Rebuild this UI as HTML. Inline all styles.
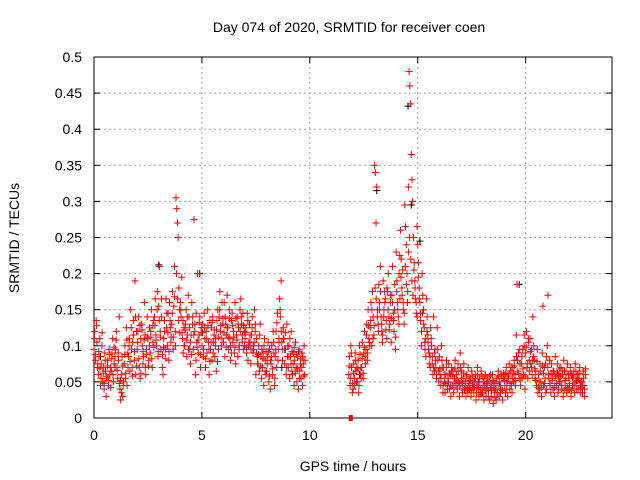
<!DOCTYPE html>
<html><head><meta charset="utf-8"><style>
html,body{margin:0;padding:0;background:#fff}
svg{display:block;font-family:"Liberation Sans",sans-serif}
</style></head><body>
<svg id="chart" width="640" height="480" viewBox="0 0 640 480">
<rect x="0" y="0" width="640" height="480" fill="#fff"/>
<g id="grid"></g>
<g id="axes"></g>
<g id="marks"></g>
<text x="349" y="32" text-anchor="middle" font-size="14">Day 074 of 2020, SRMTID for receiver coen</text>
<text x="353" y="471" text-anchor="middle" font-size="14">GPS time / hours</text>
<text transform="translate(19,238) rotate(-90)" text-anchor="middle" font-size="14">SRMTID / TECUs</text>
</svg>
<script>
const xTicks=[0,5,10,15,20];
const yTicks=[0,0.05,0.1,0.15,0.2,0.25,0.3,0.35,0.4,0.45,0.5];
const yTickLabels=["0","0.05","0.1","0.15","0.2","0.25","0.3","0.35","0.4","0.45","0.5"];
const segAStart=0, segBStart=11.8, binStep=0.2;
const segAVals=[
[95,120,80,135,105,70],[60,85,110,45,75,100],[50,70,40,90,65,30],[55,80,45,95,60,70],[65,90,110,50,75,85],
[95,120,70,55,80,140],[40,25,60,85,30,50],[75,100,55,125,45,90],[85,110,65,150,95,70],[105,135,80,190,60,120],
[95,120,140,70,55,110],[130,100,75,85,160,115],[60,95,140,110,80,125],[90,120,150,70,105,135],[140,165,115,100,175,85],
[155,210,120,95,140,70],[60,110,135,95,165,125],[100,145,80,160,125,105],[130,175,95,155,210,120],[305,290,270,250,180,150],
[160,140,195,110,90,125],[100,130,150,85,115,170],[140,95,75,115,160,130],[95,275,120,60,145,105],[200,90,115,140,70,125],
[100,130,85,145,110,70],[120,90,150,105,60,135],[95,125,80,140,105,115],[85,110,65,135,150,95],[140,175,120,100,160,130],
[105,160,85,130,115,170],[125,95,150,110,80,135],[145,105,120,90,160,75],[115,140,85,125,100,150],[165,130,105,145,95,120],
[110,125,90,145,80,100],[130,105,75,115,140,90],[95,150,120,60,110,85],[75,100,65,130,85,55],[70,90,45,110,80,60],
[65,85,105,50,95,40],[75,100,60,120,90,45],[85,120,70,145,95,110],[165,140,190,105,80,125],[110,75,95,60,130,85],
[70,100,55,85,120,65],[60,90,45,80,105,70],[50,85,40,95,65,75],[55,90,45,75,100,60]];
const segAExtra=[
[110,88,128,75],[92,68,55,118],[62,48,80,58],[72,52,88,42],[82,60,98,70],
[108,66,90,48],[52,35,72,45],[88,62,108,70],[100,78,125,58],[115,92,140,72],
[105,82,128,62],[122,92,108,70],[88,112,72,100],[112,82,128,98],[128,108,150,92],
[135,112,165,88],[98,120,82,145],[118,92,135,112],[145,112,168,100],[200,165,135,118],
[150,118,135,100],[122,108,140,95],[125,105,88,140],[115,130,80,98],[108,132,88,118],
[118,95,125,82],[110,128,95,78],[105,132,90,122],[100,122,78,112],[150,128,110,138],
[118,140,98,125],[112,138,100,90],[128,112,98,138],[108,130,95,120],[140,115,128,100],
[118,98,135,105],[115,95,125,100],[105,130,90,75],[88,115,72,95],[82,100,65,92],
[75,92,58,80],[85,68,105,55],[95,132,80,105],[150,120,95,110],[95,118,70,100],
[85,110,75,92],[75,98,62,88],[68,92,55,82],[70,85,58,80]];
const segBVals=[
[60,85,45,100,70,35],[40,75,55,90,65,50],[50,80,35,100,60,70],[70,105,55,90,120,85],[95,130,80,150,110,105],
[125,160,100,175,140,115],[350,340,270,320,150,130],[185,160,210,140,120,105],[190,150,175,165,135,110],[175,200,140,130,160,105],
[170,210,145,120,185,95],[230,190,160,140,200,225],[260,220,180,205,150,130],[295,265,240,200,175,320],[480,460,435,365,330,300],
[250,215,190,165,145,265],[240,215,180,160,135,100],[200,170,150,125,95,110],[165,140,115,95,75,85],[125,100,75,60,140,90],
[95,70,55,125,80,65],[85,60,45,100,70,35],[70,50,35,60,80,45],[55,75,40,60,30,65],[45,65,35,55,80,50],
[60,40,75,50,30,90],[45,65,35,55,75,40],[50,30,60,40,70,45],[40,55,30,65,45,50],[35,50,60,25,45,70],
[45,30,55,40,65,35],[35,50,25,45,60,30],[40,55,30,50,25,60],[30,45,60,20,50,35],[40,25,55,35,65,45],
[50,35,60,40,25,55],[60,45,35,70,50,30],[55,75,40,65,45,35],[70,50,80,60,45,115],[185,65,90,55,75,45],
[75,55,95,60,115,40],[90,120,70,55,105,80],[110,75,95,60,140,85],[80,55,65,45,95,35],[60,40,75,50,30,90],
[155,45,70,55,35,85],[100,170,60,80,45,35],[75,55,40,65,30,85],[60,45,75,35,55,50],[50,70,40,60,30,80],
[65,45,55,35,75,40],[55,40,70,30,60,45],[45,65,35,75,50,40],[60,40,55,70,35,50],[50,35,65,45,30,60]];
const segBExtra=[
[72,55,90,48],[62,45,80,70],[68,45,88,55],[82,62,98,75],[115,90,128,100],
[135,150,110,128],[180,165,140,120],[150,175,130,115],[140,160,122,180],[150,122,170,138],
[160,135,150,112],[175,150,130,165],[195,170,160,145],[210,185,160,230],[250,220,190,170],
[205,180,160,140],[195,165,145,120],[145,130,105,85],[120,105,90,70],[110,85,70,65],
[80,60,95,50],[68,55,80,45],[60,48,70,40],[50,62,45,70],[58,42,68,48],
[52,65,45,70],[55,48,62,38],[42,58,35,52],[48,38,58,42],[42,55,35,60],
[40,50,32,58],[42,55,38,48],[48,38,58,42],[38,52,42,28],[48,35,58,30],
[45,58,38,62],[52,62,40,58],[62,48,70,55],[62,72,52,85],[80,62,95,55],
[85,68,100,58],[98,75,110,65],[92,70,80,100],[68,52,78,42],[50,65,42,72],
[62,48,75,40],[70,55,48,62],[52,65,42,58],[48,62,40,68],[58,45,65,38],
[52,65,42,60],[48,62,38,55],[58,45,65,52],[52,62,45,42],[45,55,40,68]];
const blackTimes=[14.55,13.1,19.7,4.9,3.0,14.7,0.3,8.7,15.1,12.3,17.8,21.5];
const blackVals=[0.432,0.315,0.185,0.2,0.212,0.295,0.085,0.07,0.245,0.06,0.05,0.06];
const zeroTimes=[11.9];
const zeroVals=[0];

const L=94,R=612,T=57,B=418,XMAX=24,YMAX=0.5;
const xs=v=>L+v/XMAX*(R-L);
const ys=v=>B-v/YMAX*(B-T);
const NS="http://www.w3.org/2000/svg";
function mk(tag,attrs,parent){const e=document.createElementNS(NS,tag);for(const k in attrs)e.setAttribute(k,attrs[k]);parent.appendChild(e);return e;}
const grid=document.getElementById('grid'),axes=document.getElementById('axes'),marks=document.getElementById('marks');
xTicks.forEach((t,i)=>{
  const x=xs(t);
  if(t>0){const g=mk('line',{x1:x,y1:T,x2:x,y2:B,stroke:'#a0a0a0','stroke-dasharray':'2,3'},grid);
  
  }
  mk('line',{x1:x,y1:B,x2:x,y2:B-6,stroke:'#000'},axes);
  mk('line',{x1:x,y1:T,x2:x,y2:T+6,stroke:'#000'},axes);
  const tx=mk('text',{x:x,y:B+22,'text-anchor':'middle','font-size':'14'},axes);
  tx.textContent=String(t);
  
  
});
yTicks.forEach((t,i)=>{
  const y=ys(t);
  if(t>0&&t<YMAX){const g=mk('line',{x1:L,y1:y,x2:R,y2:y,stroke:'#a0a0a0','stroke-dasharray':'2,3'},grid);
  
  }
  mk('line',{x1:L,y1:y,x2:L+6,y2:y,stroke:'#000'},axes);
  mk('line',{x1:R,y1:y,x2:R-6,y2:y,stroke:'#000'},axes);
  const tx=mk('text',{x:L-12,y:y+5,'text-anchor':'end','font-size':'14'},axes);
  tx.textContent=yTickLabels[i];
  
  
});
const frame=mk('rect',{x:L,y:T,width:R-L,height:B-T,fill:'none',stroke:'#000'},axes);


function plus(t,v,col){
  const x=xs(t),y=ys(v);
  const p=mk('path',{d:`M${x-3.5},${y}h7M${x},${y-3.5}v7`,stroke:col,'stroke-width':'1',fill:'none'},marks);
  
  
}
blackTimes.forEach((t,i)=>plus(t,blackVals[i],'#000'));
function drawSeg(start,vals,offset){
  vals.forEach((bin,i)=>{
    bin.forEach((v,j)=>{
      const t=start+i*binStep+(j+offset)*binStep/bin.length;
      plus(t,v/1000,'#f00');
    });
  });
}
drawSeg(segAStart,segAVals,0);
drawSeg(segAStart,segAExtra,0.5);
drawSeg(segBStart,segBVals,0);
drawSeg(segBStart,segBExtra,0.5);
zeroTimes.forEach((t,i)=>{
  const r=mk('rect',{x:xs(t)-2,y:ys(zeroVals[i])-3,width:4,height:6,fill:'#f00'},marks);
  
  
});
</script>
</body></html>
